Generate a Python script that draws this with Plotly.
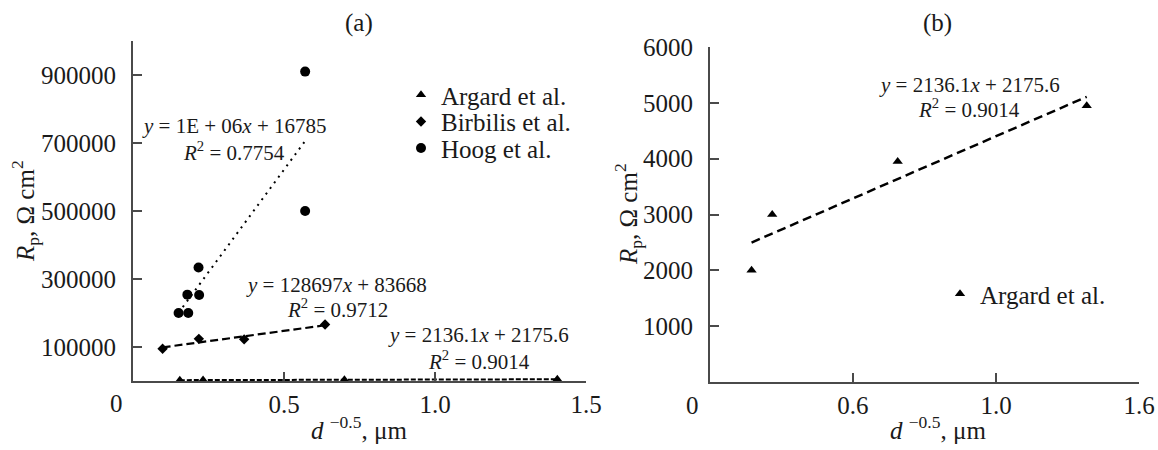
import numpy as np
import plotly.graph_objects as go

W, H = 1158, 450

# ---------------- data ----------------
argard_x = [0.155, 0.232, 0.700, 1.405]
argard_y = [2000, 3000, 3950, 4950]

birbilis_x = [0.098, 0.218, 0.368, 0.636]
birbilis_y = [95000, 124000, 122500, 166000]

hoog_x = [0.151, 0.183, 0.180, 0.219, 0.217, 0.570, 0.570]
hoog_y = [200000, 200000, 254000, 253000, 334000, 500000, 910000]

a_xtick_vals = [0.5, 1.0, 1.5]
a_xtick_text = ["0.5", "1.0", "1.5"]
a_ytick_vals = [100000, 300000, 500000, 700000, 900000]
a_ytick_text = ["100000", "300000", "500000", "700000", "900000"]

b_xtick_vals = [0.5333, 1.0667, 1.6]
b_xtick_text = ["0.6", "1.0", "1.6"]
b_ytick_vals = [1000, 2000, 3000, 4000, 5000, 6000]
b_ytick_text = ["1000", "2000", "3000", "4000", "5000", "6000"]

eq_argard = ["<i>y</i> = 2136.1<i>x</i> + 2175.6", "<i>R</i><sup>2</sup> = 0.9014"]
eq_birbilis = ["<i>y</i> = 128697<i>x</i> + 83668", "<i>R</i><sup>2</sup> = 0.9712"]
eq_hoog = ["<i>y</i> = 1E + 06<i>x</i> + 16785", "<i>R</i><sup>2</sup> = 0.7754"]

FONT = "Liberation Serif, Times New Roman, serif"
AXC = "#4a4a4a"
TXT = "#1a1a1a"
FS = 25


def px(x):
    return x / W


def py(y):
    return 1 - y / H


def trend(xs, ys):
    k, b = np.polyfit(xs, ys, 1)
    xe = np.array([min(xs), max(xs)])
    return xe, k * xe + b


fig = go.Figure()

# ---------------- panel (a) ----------------
tx, ty = trend(hoog_x, hoog_y)
fig.add_trace(go.Scatter(x=tx, y=ty, mode="lines", showlegend=False,
                         line=dict(color="black", width=2, dash="2px,5px"),
                         xaxis="x", yaxis="y"))
tx, ty = trend(birbilis_x, birbilis_y)
fig.add_trace(go.Scatter(x=tx, y=ty, mode="lines", showlegend=False,
                         line=dict(color="black", width=2.2, dash="8px,4px"),
                         xaxis="x", yaxis="y"))
tx, ty = trend(argard_x, argard_y)
fig.add_trace(go.Scatter(x=tx, y=ty, mode="lines", showlegend=False,
                         line=dict(color="black", width=2, dash="5px,2px"),
                         xaxis="x", yaxis="y"))

fig.add_trace(go.Scatter(x=argard_x, y=argard_y, mode="markers", name="Argard et al.",
                         marker=dict(symbol="triangle-up", size=9, color="black"),
                         cliponaxis=False, legend="legend", xaxis="x", yaxis="y"))
fig.add_trace(go.Scatter(x=birbilis_x, y=birbilis_y, mode="markers", name="Birbilis et al.",
                         marker=dict(symbol="diamond", size=8, color="black"),
                         cliponaxis=False, legend="legend2", xaxis="x", yaxis="y"))
fig.add_trace(go.Scatter(x=hoog_x, y=hoog_y, mode="markers", name="Hoog et al.",
                         marker=dict(symbol="circle", size=10, color="black"),
                         cliponaxis=False, legend="legend3", xaxis="x", yaxis="y"))

# ---------------- panel (b) ----------------
tx, ty = trend(argard_x, argard_y)
fig.add_trace(go.Scatter(x=tx, y=ty, mode="lines", showlegend=False,
                         line=dict(color="black", width=2.5, dash="9px,5px"),
                         xaxis="x2", yaxis="y2"))
fig.add_trace(go.Scatter(x=argard_x, y=argard_y, mode="markers", name="Argard et al.",
                         marker=dict(symbol="triangle-up", size=9, color="black"),
                         cliponaxis=False, legend="legend4", xaxis="x2", yaxis="y2"))

axis_common = dict(showline=True, linecolor=AXC, linewidth=2, showgrid=False,
                   zeroline=False, ticks="inside", ticklen=9, tickwidth=1.5,
                   tickcolor=AXC, tickfont=dict(family=FONT, size=FS, color=TXT),
                   tickmode="array", fixedrange=True, automargin=False)

leg_common = dict(font=dict(family=FONT, size=FS, color=TXT), bgcolor="rgba(0,0,0,0)",
                  xanchor="left", yanchor="middle", itemclick=False)

LEG_DY = 0

fig.update_layout(
    template="none",
    width=W, height=H, autosize=False, margin=dict(l=0, r=0, t=0, b=0, pad=0),
    paper_bgcolor="white", plot_bgcolor="white",
    font=dict(family=FONT, color=TXT),
    xaxis=dict(domain=[px(133), px(586)], range=[0, 1.5], anchor="y",
               tickvals=a_xtick_vals, ticktext=a_xtick_text,
               ticklabelstandoff=0, **axis_common),
    yaxis=dict(domain=[py(381), py(41)], range=[0, 1000000], anchor="x",
               tickvals=a_ytick_vals, ticktext=a_ytick_text,
               ticklabelstandoff=10, **axis_common),
    xaxis2=dict(domain=[px(710), px(1139)], range=[0, 1.6], anchor="y2",
                tickvals=b_xtick_vals, ticktext=b_xtick_text,
                ticklabelstandoff=0, **axis_common),
    yaxis2=dict(domain=[py(382), py(47)], range=[0, 6000], anchor="x2",
                tickvals=b_ytick_vals, ticktext=b_ytick_text,
                ticklabelstandoff=10, **axis_common),
    legend=dict(x=px(401), y=py(95 + LEG_DY), **leg_common),
    legend2=dict(x=px(401), y=py(121.7 + LEG_DY), **leg_common),
    legend3=dict(x=px(401), y=py(148.3 + LEG_DY), **leg_common),
    legend4=dict(x=px(940), y=py(294 + LEG_DY), **leg_common),
)

ann = []


def text(x, y, t, size, angle=0):
    ann.append(dict(x=px(x), y=py(y), xref="paper", yref="paper", text=t,
                    showarrow=False, xanchor="center", yanchor="middle",
                    textangle=angle, font=dict(family=FONT, size=size, color=TXT)))


text(359, 23, "(a)", FS)
text(937, 23, "(b)", FS)
text(116, 403, "0", FS)
text(692, 405, "0", FS)
text(25, 211, "<i>R</i><sub>p</sub>, Ω cm<sup>2</sup>", FS, -90)
text(628, 214, "<i>R</i><sub>p</sub>, Ω cm<sup>2</sup>", FS, -90)
text(359, 428, "<i>d</i> <sup>−0.5</sup>, μm", FS)
text(938, 428, "<i>d</i> <sup>−0.5</sup>, μm", FS)

text(234, 126, eq_hoog[0], 21)
text(234, 152, eq_hoog[1], 21)
text(336, 285, eq_birbilis[0], 21)
text(337, 308, eq_birbilis[1], 21)
text(478, 335, eq_argard[0], 21)
text(479, 360, eq_argard[1], 21)
text(969, 85, eq_argard[0], 21)
text(969, 108, eq_argard[1], 21)

fig.update_layout(annotations=ann)
fig.write_html(
    "out.html",
    config={"displayModeBar": False, "responsive": False},
    post_script="document.body.style.margin='0';document.body.style.overflow='hidden';",
)
